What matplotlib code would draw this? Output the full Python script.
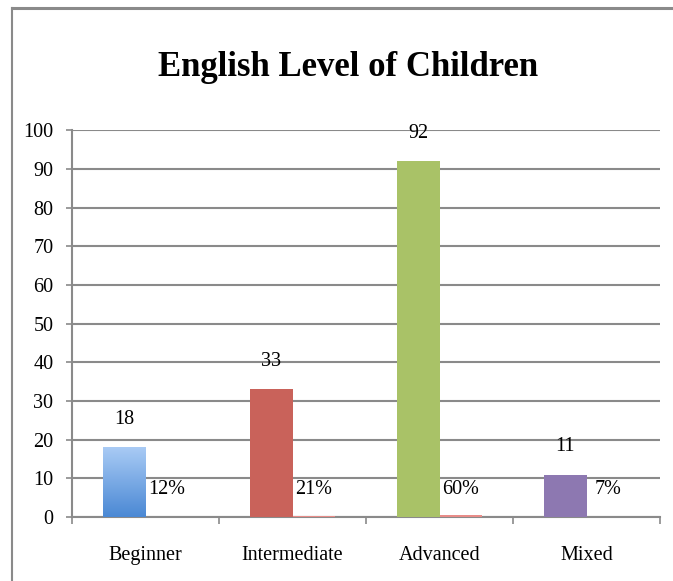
import matplotlib.pyplot as plt
import numpy as np
from matplotlib.colors import LinearSegmentedColormap
from matplotlib.lines import Line2D

categories = ["Beginner", "Intermediate", "Advanced", "Mixed"]
counts = [18, 33, 92, 11]
shares = [0.12, 0.21, 0.60, 0.07]
share_labels = ["12%", "21%", "60%", "7%"]
yticks = [0, 10, 20, 30, 40, 50, 60, 70, 80, 90, 100]

bar_colors = ["#5b9be0", "#c9625a", "#a9c267", "#8d78b1"]
share_color = "#e88c88"
grid_gray = "#8a8a8a"

plt.rcParams["font.family"] = ["Liberation Serif", "DejaVu Serif"]

fig = plt.figure(figsize=(6.73, 5.81), dpi=100)
ax = fig.add_axes([0.107, 0.110, 0.874, 0.666])

x = np.arange(len(categories))
w = 0.29

bars = ax.bar(x - w / 2, counts, width=w, color=bar_colors, zorder=3)
ax.bar(x + w / 2, shares, width=w, color=share_color, zorder=3)

# blue gradient on the first bar
b0 = bars[0]
grad = np.linspace(0, 1, 256).reshape(-1, 1)
cmap = LinearSegmentedColormap.from_list("blu", ["#4a88d4", "#a9cbf5"])
im = ax.imshow(grad, cmap=cmap, aspect="auto", origin="lower",
               extent=[b0.get_x(), b0.get_x() + w, 0, counts[0]], zorder=4)
im.set_clip_path(b0)

for xi, c in zip(x, counts):
    ax.annotate(str(c), (xi - w / 2, c), xytext=(0, 20), textcoords="offset points",
                ha="center", va="center", fontsize=14.5)
for xi, lab in zip(x, share_labels):
    ax.annotate(lab, (xi + w / 2, 0), xytext=(0, 20), textcoords="offset points",
                ha="center", va="center", fontsize=14.5)

ax.set_xlim(-0.5, len(categories) - 0.5)
ax.set_ylim(0, 100)
ax.set_yticks(yticks)
ax.tick_params(axis="y", length=4.5, width=1.2, color=grid_gray, pad=9, labelsize=14.5)
ax.set_xticks(x)
ax.set_xticklabels(categories)
ax.tick_params(axis="x", which="major", length=0, pad=21, labelsize=14.5)
ax.set_xticks(np.arange(-0.5, len(categories)), minor=True)
ax.tick_params(axis="x", which="minor", length=5, width=1.2, color=grid_gray)

ax.grid(axis="y", color=grid_gray, linewidth=1.5, zorder=0)
for side in ["top", "right"]:
    ax.spines[side].set_visible(False)
for side in ["left", "bottom"]:
    ax.spines[side].set_color(grid_gray)
    ax.spines[side].set_linewidth(1.5)

fig.text(0.517, 0.883, "English Level of Children", ha="center", va="center",
         fontsize=25, fontweight="bold")

# outer frame
fig.add_artist(Line2D([12 / 673, 1], [1 - 8 / 581, 1 - 8 / 581], color=grid_gray, lw=2.2,
                      transform=fig.transFigure))
fig.add_artist(Line2D([12 / 673, 12 / 673], [0, 1 - 8 / 581], color=grid_gray, lw=1.5,
                      transform=fig.transFigure))

fig.savefig("out.png", dpi=100)
